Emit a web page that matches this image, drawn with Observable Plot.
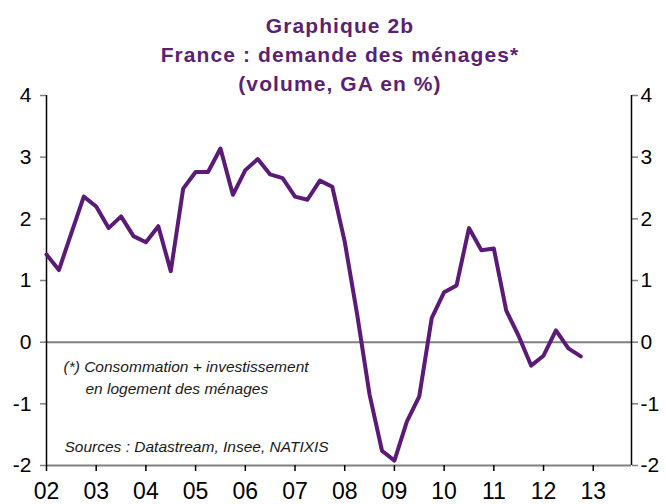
<!DOCTYPE html>
<html>
<head>
<meta charset="utf-8">
<script src="https://cdn.jsdelivr.net/npm/d3@7"></script>
<script src="https://cdn.jsdelivr.net/npm/@observablehq/plot@0.6"></script>
<style>
  html, body { margin: 0; padding: 0; background: #fff; }
  #wrap { position: relative; width: 666px; height: 504px; overflow: hidden; font-family: "Liberation Sans", Arial, sans-serif; }
  #title { position: absolute; left: 0; top: 11px; width: 652px; padding-left: 14px; text-align: center;
           color: #5b1f73; font-weight: bold; font-size: 21px; line-height: 29px; letter-spacing: 1.1px; z-index: 2; }
  #chart { position: absolute; left: 0; top: 0; }
</style>
</head>
<body>
<div id="wrap">
  <div id="title">Graphique 2b<br>France : demande des ménages*<br>(volume, GA en %)</div>
  <div id="chart"></div>
</div>
<script>
// Quarterly values, 2002 Q1 .. 2012 Q4 (year-on-year growth, %)
const startYear = 2002;
const values = [
  1.42, 1.17, 1.77, 2.36,
  2.20, 1.85, 2.04, 1.72,
  1.62, 1.88, 1.15, 2.49,
  2.76, 2.76, 3.14, 2.39,
  2.79, 2.97, 2.72, 2.66,
  2.36, 2.31, 2.62, 2.52,
  1.63, 0.45, -0.85, -1.76,
  -1.92, -1.29, -0.88, 0.39,
  0.81, 0.92, 1.85, 1.49,
  1.52, 0.51, 0.10, -0.38,
  -0.22, 0.19, -0.10, -0.23
];
const xTicks = [2002, 2003, 2004, 2005, 2006, 2007, 2008, 2009, 2010, 2011, 2012, 2013];
const xTickLabels = ["02", "03", "04", "05", "06", "07", "08", "09", "10", "11", "12", "13"];
const yTicks = [-2, -1, 0, 1, 2, 3, 4];
const yTickLabels = ["-2", "-1", "0", "1", "2", "3", "4"];
const xDomain = [2002, 2013.77];
const yDomain = [-2, 4];
const note1 = ["(*) Consommation + investissement"];
const note2 = ["en logement des ménages"];
const sourceNote = ["Sources : Datastream, Insee, NATIXIS"];

const data = values.map((v, i) => ({t: startYear + i / 4, v}));
const purple = "#5c1a78";
const grey = "#808080";
const yFmt = (d) => yTickLabels[yTicks.indexOf(d)];
const noteStyle = {text: d => d, frameAnchor: "top-left", textAnchor: "start", lineAnchor: "middle",
  fontSize: 15.5, fontStyle: "italic", fill: "#1a1a1a", letterSpacing: 0.2};

const chart = Plot.plot({
  width: 666,
  height: 504,
  marginTop: 95,
  marginBottom: 39,
  marginLeft: 46,
  marginRight: 35,
  style: {fontFamily: "'Liberation Sans', Arial, sans-serif", background: "transparent", color: "#000"},
  x: {domain: xDomain, ticks: xTicks},
  y: {domain: yDomain, ticks: yTicks},
  marks: [
    Plot.ruleY([0], {stroke: grey, strokeWidth: 2}),
    Plot.ruleY([yDomain[0]], {stroke: grey, strokeWidth: 2}),
    Plot.axisY(yTicks, {anchor: "left", tickSize: 6, tickPadding: 9, stroke: grey, strokeWidth: 1.5, fill: "#000", fontSize: 21, tickFormat: yFmt, label: null}),
    Plot.axisY(yTicks, {anchor: "right", tickSize: 6, tickPadding: 3, stroke: grey, strokeWidth: 1.5, fill: "#000", fontSize: 21, tickFormat: yFmt, label: null}),
    Plot.ruleX([xDomain[0], xDomain[1]], {stroke: "#000", strokeWidth: 1.5}),
    Plot.axisX(xTicks, {anchor: "bottom", tickSize: 6, tickPadding: 11, stroke: "#000", strokeWidth: 1.5, fill: "#000", fontSize: 23,
      tickFormat: (d) => xTickLabels[xTicks.indexOf(d)], label: null}),
    Plot.text(note1, {...noteStyle, dx: 17, dy: 272}),
    Plot.text(note2, {...noteStyle, dx: 39, dy: 294}),
    Plot.text(sourceNote, {...noteStyle, dx: 18, dy: 352}),
    Plot.line(data, {x: "t", y: "v", stroke: purple, strokeWidth: 4, strokeLinejoin: "round"})
  ]
});
document.getElementById("chart").appendChild(chart);
</script>
</body>
</html>
